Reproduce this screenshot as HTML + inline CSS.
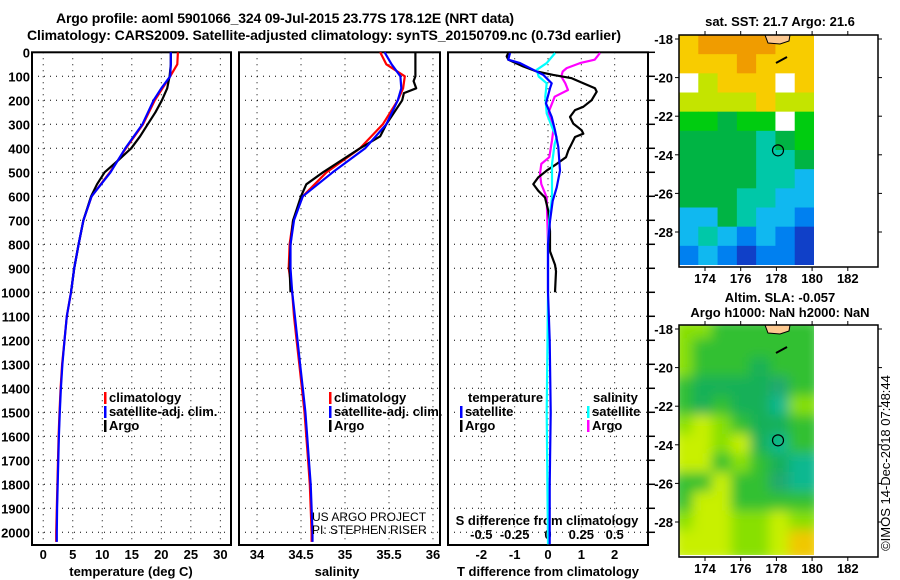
<!DOCTYPE html>
<html><head><meta charset="utf-8"><style>
html,body{margin:0;padding:0;background:#fff;}
svg{display:block;font-family:"Liberation Sans",Arial,sans-serif;}
.b{font-weight:bold;font-size:13px;}
.t{font-weight:bold;font-size:14px;}
</style></head><body>
<svg id="c" width="900" height="580" viewBox="0 0 900 580">
<text class="t" x="285" y="23" text-anchor="middle" textLength="458">Argo profile: aoml 5901066_324 09-Jul-2015 23.77S 178.12E (NRT data)</text>
<text class="t" x="324" y="40" text-anchor="middle" textLength="594">Climatology: CARS2009. Satellite-adjusted climatology: synTS_20150709.nc (0.73d earlier)</text>
<text x="890" y="463" font-size="13" text-anchor="middle" transform="rotate(-90 890 463)">©IMOS 14-Dec-2018 07:48:44</text>
</svg>
<script>
// ---- data ----
const depthTicks=[0,100,200,300,400,500,600,700,800,900,1000,1100,1200,1300,1400,1500,1600,1700,1800,1900,2000];
const tTicks=[0,5,10,15,20,25,30];
const sTicks=[34,34.5,35,35.5,36];
const sTickLabels=["34","34.5","35","35.5","36"];
const dTicks=[-2,-1,0,1,2];
const dsTicks=[-0.5,-0.25,0,0.25,0.5];
const dsTickLabels=["-0.5","-0.25","0","0.25","0.5"];
const climDepth=[0,50,100,150,200,300,400,500,600,700,800,900,1000,1100,1200,1300,1400,1500,1600,1700,1800,1900,2000,2040];
const climT=[22.8,22.7,21.5,20.2,18.9,16.9,14.0,11.3,8.2,6.8,6.0,5.25,4.7,4.0,3.6,3.2,2.95,2.75,2.6,2.5,2.4,2.3,2.2,2.2];
const satT=[21.6,21.6,21.5,20.0,18.7,16.8,13.9,11.4,8.2,6.8,6.0,5.25,4.7,4.0,3.6,3.25,3.0,2.8,2.65,2.55,2.45,2.35,2.3,2.3];
const argoDepthT=[0,50,100,150,200,250,300,350,400,450,500,550,600,700,800,900,1000];
const argoT=[21.6,21.6,21.4,21.0,20.1,19.0,17.7,16.4,14.9,12.7,10.4,9.1,8.1,6.8,6.0,5.25,4.7];
const climS=[35.40,35.47,35.68,35.66,35.6,35.43,35.17,34.79,34.52,34.41,34.37,34.36,34.4,34.42,34.45,34.48,34.51,34.54,34.56,34.58,34.6,34.61,34.62,34.62];
const satS=[35.45,35.53,35.63,35.64,35.6,35.47,35.23,34.86,34.52,34.42,34.38,34.38,34.4,34.43,34.46,34.49,34.52,34.55,34.57,34.59,34.61,34.62,34.63,34.63];
const argoDepthS=[0,100,120,150,170,200,300,350,400,500,550,600,700,800,900,1000];
const argoS=[35.8,35.8,35.78,35.81,35.67,35.65,35.47,35.4,35.17,34.75,34.56,34.5,34.41,34.38,34.37,34.38];
const dArgoTDepth=[3,17,31,59,80,94,108,129,150,164,199,227,241,269,297,325,339,353,381,409,437,465,493,521,549,577,605,661,745,829,885,913,1000];
const dArgoT=[-1.19,-1.24,-1.19,-0.74,-0.34,0.16,0.71,1.06,1.41,1.46,1.31,1.06,0.81,0.66,0.76,1.01,1.06,0.81,0.71,0.61,0.54,0.26,-0.04,-0.29,-0.44,-0.29,-0.09,0.01,0.06,0.06,0.21,0.24,0.21];
const dSatTDepth=[3,31,45,73,94,129,150,213,269,325,395,493,563,619,703,800,1000,1200,1500,1800,2050];
const dSatT=[-1.14,-1.19,-0.84,-0.44,-0.14,0.11,0.06,-0.06,0.11,0.21,0.31,0.36,0.26,0.14,0.06,0.0,0.0,0.05,0.08,0.05,0.05];
const dSatSDepth=[3,45,73,101,129,185,255,325,353,381,465,605,700,800,1000,1500,2050];
const dSatS=[0.053,-0.01,-0.085,-0.07,-0.01,-0.02,-0.01,0.04,0.065,0.05,0.03,0.03,0.01,0.0,0.0,-0.01,0.0];
const dArgoSDepth=[3,31,45,66,80,101,129,157,185,227,255,297,325,367,437,465,507,549,605,800,1000];
const dArgoS=[0.39,0.35,0.24,0.14,0.11,0.10,0.13,0.15,0.05,0.02,0.0,0.03,0.04,0.03,0.01,-0.05,-0.06,-0.05,-0.01,0.0,0.0];
const latTicks=[-18,-20,-22,-24,-26,-28];
const lonTicks=[174,176,178,180,182];
const sstGrid=["YOOOOYY","YYYOYYY","WLYYYWY","LLLLYLL","GGDGGWG","DDDDTDG","DDDDTTD","DDDDTTC","DDDTTCC","CCDTCCB","CTCBCBN","BCBNBBN"];
const slaGrid=["llggggg","lgggggg","lgggtgg","gttttrg","gtgttsl","lylgttg","yylytsg","yyglgts","ggyggrs","gyygggg","lyyllyl","yyyllyo"];
// ---- helpers ----
const NS="http://www.w3.org/2000/svg";
const svg=document.getElementById('c');
function mk(tag,attrs,parent){const e=document.createElementNS(NS,tag);for(const k in attrs)e.setAttribute(k,attrs[k]);(parent||svg).appendChild(e);return e;}
const Y0=52.3,PY=0.24,YB=545;
const yD=d=>Y0+d*PY;
const panels=[
 {name:'temperature',l:32,r:231,min:-1.9,max:31.8},
 {name:'salinity',l:239,r:440,min:33.795,max:36.08},
 {name:'difference',l:448,r:648,min:-3,max:3}];
function xf(p){return v=>p.l+(v-p.min)/(p.max-p.min)*(p.r-p.l);}
const xT=xf(panels[0]),xS=xf(panels[1]),xDf=xf(panels[2]);
const xDS=v=>xDf(v*4);
panels.forEach((p,i)=>{
 const g=mk('g',{});
 
 
 depthTicks.forEach(d=>{const l=mk('line',{x1:p.l,x2:p.r,y1:yD(d),y2:yD(d),stroke:'#000','stroke-width':1,'stroke-dasharray':'1 5'},g);
  });
 const xs=i==0?tTicks.map(xT):i==1?sTicks.map(xS):dTicks.map(xDf);
 xs.forEach(x=>{const l=mk('line',{x1:x,x2:x,y1:Y0,y2:YB,stroke:'#000','stroke-width':1,'stroke-dasharray':'1 5'},g);
  });
 const r=mk('rect',{x:p.l,y:Y0,width:p.r-p.l,height:YB-Y0,fill:'none',stroke:'#000','stroke-width':2},g);
 
});
depthTicks.forEach(d=>{const l=mk('line',{x1:648,x2:655,y1:yD(d),y2:yD(d),stroke:'#000','stroke-width':1.5});
 });
depthTicks.forEach(d=>{const t=mk('text',{x:30,y:yD(d)+5,'text-anchor':'end',class:'b'});t.textContent=d;
 });
function xl(x,y,s,name){const t=mk('text',{x:x,y:y,'text-anchor':'middle',class:'b'});t.textContent=s;
 return t;}
tTicks.forEach(v=>xl(xT(v),559,v,'temperature-tick-label'));
sTicks.forEach((v,i)=>xl(xS(v),559,sTickLabels[i],'salinity-tick-label'));
dTicks.forEach(v=>xl(xDf(v),559,v,'t-diff-tick-label'));
dsTicks.forEach((v,i)=>xl(xDS(v),539,dsTickLabels[i],'s-diff-tick-label'));
xl(131,576,'temperature (deg C)','temperature-axis-title');
xl(337,576,'salinity','salinity-axis-title');
xl(548,576,'T difference from climatology','t-diff-axis-title');
xl(547,525,'S difference from climatology','s-diff-axis-title');
function line(xs,ds,xfn,color,name){const pts=xs.map((v,i)=>xfn(v).toFixed(1)+','+yD(ds[i]).toFixed(1)).join(' ');
 const p=mk('polyline',{points:pts,fill:'none',stroke:color,'stroke-width':2.2,'stroke-linejoin':'round'});
 }
line(climT,climDepth,xT,'#f00','temperature-climatology-line');
line(argoT,argoDepthT,xT,'#000','temperature-argo-line');
line(satT,climDepth,xT,'#00f','temperature-satellite-line');
line(climS,climDepth,xS,'#f00','salinity-climatology-line');
line(argoS,argoDepthS,xS,'#000','salinity-argo-line');
line(satS,climDepth,xS,'#00f','salinity-satellite-line');
line(dArgoS,dArgoSDepth,xDS,'#f0f','s-diff-argo-line');
line(dArgoT,dArgoTDepth,xDf,'#000','t-diff-argo-line');
line(dSatS,dSatSDepth,xDS,'#0ff','s-diff-satellite-line');
line(dSatT,dSatTDepth,xDf,'#00f','t-diff-satellite-line');
function leg(x,y,color,label,name){const r=mk('rect',{x:x,y:y-10,width:2.5,height:12,fill:color});
 
 const t=mk('text',{x:x+5,y:y,class:'b',fill:'#000'});t.textContent=label;
 }
[[104,'#f00','climatology'],[104,'#00f','satellite-adj. clim.'],[104,'#000','Argo']].forEach((a,i)=>leg(a[0],402+i*14,a[1],a[2],'temperature-legend-entry'));
[[329,'#f00','climatology'],[329,'#00f','satellite-adj. clim.'],[329,'#000','Argo']].forEach((a,i)=>leg(a[0],402+i*14,a[1],a[2],'salinity-legend-entry'));
{const t=mk('text',{x:468,y:402,class:'b'});t.textContent='temperature';}
{const t=mk('text',{x:593,y:402,class:'b'});t.textContent='salinity';}
leg(460,416,'#00f','satellite','diff-legend-t-satellite');
leg(460,430,'#000','Argo','diff-legend-t-argo');
leg(587,416,'#0ff','satellite','diff-legend-s-satellite');
leg(587,430,'#f0f','Argo','diff-legend-s-argo');
{const t=mk('text',{x:312,y:521,'font-size':12});t.textContent='US ARGO PROJECT';}
{const t=mk('text',{x:312,y:534,'font-size':12});t.textContent='PI: STEPHEN RISER';}
const sstCol={O:'#f09c00',Y:'#f8cc00',L:'#c4e400',G:'#00cc10',D:'#00b444',T:'#00c8a8',C:'#10b8f0',B:'#0080f0',N:'#1040c8',W:'#ffffff'};
const slaCol={l:'#88e000',g:'#30c030',y:'#c8f000',t:'#18b058',s:'#10b890',r:'#20a870',o:'#f0c800'};
function map(top,grid,cols,title,titleY,name,blur){
 const g=mk('g',{});
 const L=679,R=878,B=top+232,lat=v=>top+4+(-18-v)*19.3,lon=v=>705+(v-174)*17.85;
 const cid='cl'+top;const cp=mk('clipPath',{id:cid},g);mk('rect',{x:L,y:top,width:814-L,height:230},cp);
 const cg=mk('g',{'clip-path':'url(#'+cid+')'},g);
 const ig=mk('g',blur?{filter:'url(#bl)'}:{},cg);
 const cw=(814-L)/7,ch=230/12;
 grid.forEach((row,r)=>row.split('').forEach((c,k)=>{const e=mk('rect',{x:L+k*cw-(blur?6:0),y:top+r*ch-(blur?6:0),width:cw+(blur?12:0.5),height:ch+(blur?12:0.5),fill:cols[c]},ig);
  }));
 const isl=mk('path',{d:`M765 ${top} L790 ${top} L789 ${top+6} L780 ${top+9} L768 ${top+8} Z`,fill:'#fcc890',stroke:'#000','stroke-width':1},g);
 
 mk('path',{d:`M776 ${top+28} L787 ${top+22}`,stroke:'#000','stroke-width':2},g);
 const ci=mk('circle',{cx:778,cy:lat(-23.77),r:5.5,fill:'none',stroke:'#000','stroke-width':1.2},g);
 
 mk('rect',{x:L,y:top,width:R-L,height:B-top,fill:'none',stroke:'#000','stroke-width':1.5},g);
 latTicks.forEach(v=>{mk('line',{x1:L,x2:L-4,y1:lat(v),y2:lat(v),stroke:'#000'},g);mk('line',{x1:R,x2:R+4,y1:lat(v),y2:lat(v),stroke:'#000'},g);
  const t=mk('text',{x:673,y:lat(v)+5,'text-anchor':'end',class:'b'},g);t.textContent=v;});
 lonTicks.forEach(v=>{mk('line',{x1:lon(v),x2:lon(v),y1:top,y2:top-4,stroke:'#000'},g);mk('line',{x1:lon(v),x2:lon(v),y1:B,y2:B+4,stroke:'#000'},g);
  const t=mk('text',{x:lon(v),y:B+16,'text-anchor':'middle',class:'b'},g);t.textContent=v;});
 title.forEach((s,i)=>{const t=mk('text',{x:780,y:titleY+i*15,'text-anchor':'middle',class:'b'},g);t.textContent=s;});
}
const defs=mk('defs',{});const f=mk('filter',{id:'bl',x:'-10%',y:'-10%',width:'120%',height:'120%'},defs);mk('feGaussianBlur',{stdDeviation:6},f);
map(35,sstGrid,sstCol,['sat. SST: 21.7 Argo: 21.6'],26,'sst-map',false);
map(325,slaGrid,slaCol,['Altim. SLA: -0.057','Argo h1000: NaN h2000: NaN'],302,'sla-map',true);
</script>
</body></html>
